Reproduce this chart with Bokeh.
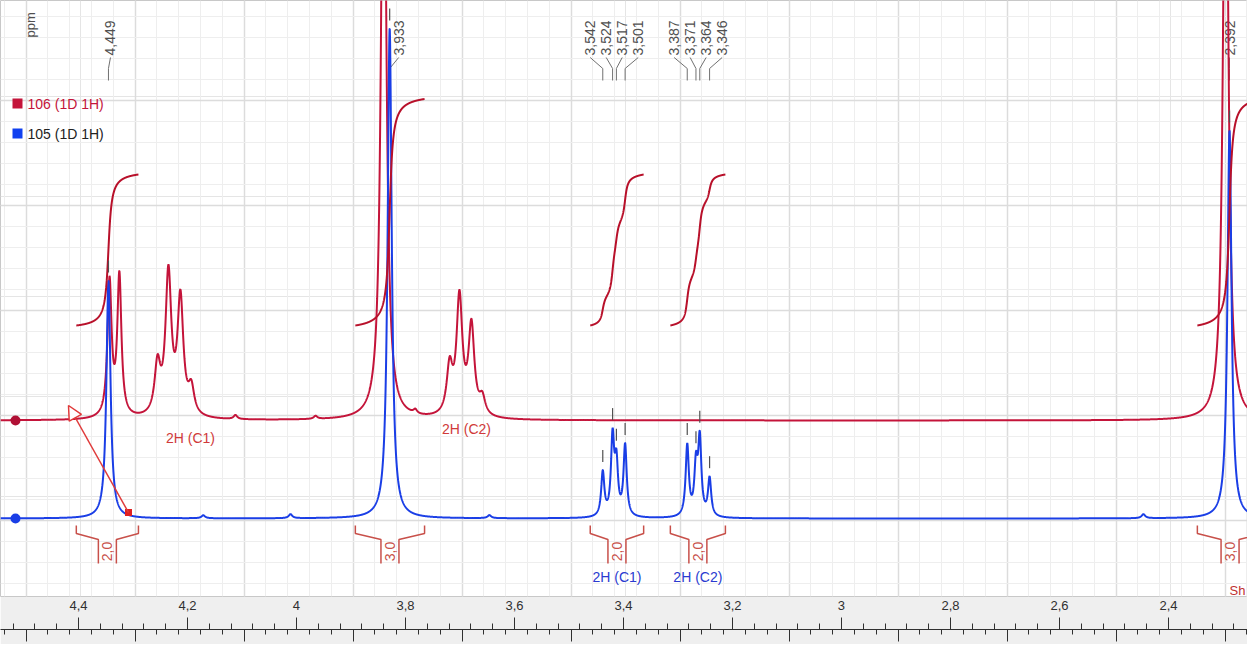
import numpy as np
from bokeh.plotting import figure
from bokeh.models import (Range1d, LinearAxis, FixedTicker, Grid, CustomJSTickFormatter,
                          Arrow, NormalHead)
from bokeh.core.properties import value
from bokeh.embed import file_html
from bokeh.resources import INLINE

FONT = "Liberation Sans"

# ------------------------------------------------------------------ data
# x coordinate = ppm scale of spectrum 105 (lower ruler); upper ruler = x - scale_offset
scale_offset = 0.104
x_start, x_end = 4.6471, 2.3590

upper_ticks = [4.4, 4.2, 4.0, 3.8, 3.6, 3.4, 3.2, 3.0, 2.8, 2.6, 2.4]
upper_tick_labels = ["4,4", "4,2", "4", "3,8", "3,6", "3,4", "3,2", "3", "2,8", "2,6", "2,4"]
lower_ticks = [4.6, 4.4, 4.2, 4.0, 3.8, 3.6, 3.4, 3.2, 3.0, 2.8, 2.6, 2.4]

# spectrum 105 (1D 1H) - blue
blue_ppm = [4.449, 3.933, 3.542, 3.524, 3.517, 3.501, 3.387, 3.371, 3.364, 3.346, 2.392,
            4.275, 4.115, 3.750, 2.550]
blue_height = [238, 490, 44, 77, 50, 71, 71, 48, 75, 38, 388, 3, 4, 3, 4]
blue_hwhm = [0.0045, 0.0045, 0.0035, 0.0035, 0.0035, 0.0035, 0.0035, 0.0035, 0.0035, 0.0035,
             0.0045, 0.004, 0.004, 0.004, 0.004]
blue_offset = 78

# spectrum 106 (1D 1H) - red
red_ppm = [4.447, 4.429, 4.359, 4.339, 4.317, 4.297, 4.216, 4.069, 3.944, 3.886,
           3.823, 3.805, 3.783, 3.763, 2.399]
red_height = [135, 140, 49, 141, 116, 26, 4, 3, 700, 4, 47, 117, 89, 17, 700]
red_hwhm = [0.0045, 0.0045, 0.0064, 0.0064, 0.0064, 0.0064, 0.004, 0.004, 0.0055, 0.004,
            0.0064, 0.0064, 0.0064, 0.0064, 0.0055]
red_offset = 176

# integrals (of spectrum 105)
integral_from = [4.508, 3.996, 3.565, 3.418, 2.451]
integral_to = [4.394, 3.869, 3.467, 3.317, 2.331]
integral_value = [2.0, 3.0, 2.0, 2.0, 3.0]
integral_text = ["2,0", "3,0", "2,0", "2,0", "3,0"]
integral_unit = 75.5      # curve height per proton
integral_base = 271

# peak picking labels
peak_label_ppm = [4.449, 3.933, 3.542, 3.524, 3.517, 3.501, 3.387, 3.371, 3.364, 3.346, 2.392]
peak_label_text = ["4,449", "3,933", "3,542", "3,524", "3,517", "3,501",
                   "3,387", "3,371", "3,364", "3,346", "2,392"]
peak_label_group = [0, 1, 2, 2, 2, 2, 3, 3, 3, 3, 4]

assign_text = ["2H (C1)", "2H (C2)"]
legend_labels = ["106 (1D 1H)", "105 (1D 1H)"]

RED = "#c4143a"
BLUE = "#1a3ee6"
BRACKET = "#c8504a"
GREY_TXT = "#505050"

# ------------------------------------------------------------------ helpers
PX = 1 / 545.0  # ppm per screen pixel


def px_x(px):   # screen-pixel x -> ppm (layout helper for annotations)
    return x_start - px * PX


def px_y(py):   # screen-pixel y -> data y
    return 596 - py


def lorentz_sum(x, ppm, h, w):
    x = np.asarray(x)[:, None]
    return np.sum(np.array(h) / (1 + ((x - np.array(ppm)) / np.array(w)) ** 2), axis=1)


xs = np.linspace(x_start, x_end, 9000)
blue_y = blue_offset + lorentz_sum(xs, blue_ppm, blue_height, blue_hwhm)
red_y = red_offset + lorentz_sum(xs, red_ppm, red_height, red_hwhm)

# ------------------------------------------------------------------ figure
p = figure(width=1247, height=644, x_range=Range1d(x_start, x_end), y_range=Range1d(0, 596),
           x_axis_location=None, y_axis_location=None, toolbar_location=None,
           output_backend="svg", min_border_left=0, min_border_right=0, min_border_top=0,
           min_border_bottom=48, background_fill_color="white", border_fill_color="#efefef",
           outline_line_color="#c8c8c8")

# grids
lower_minor = [round(v, 2) for v in np.arange(2.32, 4.68, 0.04)]
p.add_layout(Grid(dimension=0, ticker=FixedTicker(ticks=lower_ticks, minor_ticks=lower_minor),
                  grid_line_color="#dcdcdc", grid_line_width=1.5,
                  minor_grid_line_color="#eeeeee", minor_grid_line_width=1))
y_major = [76, 181, 286, 391, 496]
y_minor = list(range(13, 596, 21))
p.add_layout(Grid(dimension=1, ticker=FixedTicker(ticks=y_major, minor_ticks=y_minor),
                  grid_line_color="#dcdcdc", grid_line_width=1.5,
                  minor_grid_line_color="#eeeeee", minor_grid_line_width=1))

# axes
upper_pos = [t + scale_offset for t in upper_ticks]
upper_minor = [round(v, 2) + scale_offset for v in np.arange(2.2, 4.6, 0.04)]
fmt = CustomJSTickFormatter(args=dict(pos=upper_pos, labels=upper_tick_labels), code="""
let best = 0, bd = Infinity;
for (let i = 0; i < pos.length; i++) { const d = Math.abs(pos[i] - tick); if (d < bd) { bd = d; best = i; } }
return labels[best];
""")
blank = CustomJSTickFormatter(code="return '';")

axA = LinearAxis(ticker=FixedTicker(ticks=upper_pos, minor_ticks=[]), formatter=fmt,
                 axis_line_color=None, major_tick_line_color=None, minor_tick_line_color=None,
                 major_tick_in=0, major_tick_out=0, minor_tick_in=0, minor_tick_out=0,
                 major_label_standoff=4, major_label_text_font_size="13px",
                 major_label_text_font=FONT, major_label_text_color="#303030",
                 axis_label=" ", axis_label_standoff=2, axis_label_text_font_size="11px")
axB = LinearAxis(ticker=FixedTicker(ticks=upper_pos, minor_ticks=upper_minor), formatter=blank,
                 axis_line_color=None, major_tick_line_color="#303030",
                 minor_tick_line_color="#303030",
                 major_tick_in=12, major_tick_out=0, minor_tick_in=6, minor_tick_out=0,
                 major_label_standoff=0, major_label_text_font_size="0px")
axC = LinearAxis(ticker=FixedTicker(ticks=lower_ticks, minor_ticks=lower_minor), formatter=blank,
                 axis_line_color="#303030", major_tick_line_color="#303030",
                 minor_tick_line_color="#303030",
                 major_tick_in=0, major_tick_out=12, minor_tick_in=0, minor_tick_out=5,
                 major_label_standoff=0, major_label_text_font_size="0px")
p.add_layout(axA, "below")
p.add_layout(axB, "below")
p.add_layout(axC, "below")

# peak labels (top)
sp = 16 * PX
lab_x = []
for g in sorted(set(peak_label_group)):
    idx = [i for i, gg in enumerate(peak_label_group) if gg == g]
    mean = np.mean([peak_label_ppm[i] for i in idx])
    n = len(idx)
    for k, i in enumerate(idx):
        lab_x.append(mean - (k - (n - 1) / 2) * sp)
lab_x = [lx - (9 * PX if g == 1 else (2 * PX if g == 0 else 0))
         for lx, g in zip(lab_x, peak_label_group)]
p.text(x=lab_x, y=[px_y(55)] * len(lab_x), text=peak_label_text, angle=np.pi / 2,
       text_align="left", text_baseline="middle", text_font=value(FONT),
       text_font_size="14px", text_color=GREY_TXT)
p.multi_line(xs=[[lx, pk, pk] for lx, pk in zip(lab_x, peak_label_ppm)],
             ys=[[px_y(57), px_y(68), px_y(80)]] * len(lab_x), line_color="#707070",
             line_width=1)

# "ppm" label
p.text(x=[px_x(30)], y=[px_y(37)], text=["ppm"], angle=np.pi / 2, text_align="left",
       text_baseline="middle", text_font=value(FONT), text_font_size="13px",
       text_color=GREY_TXT)

# integral brackets
d = 9 * PX
bx, by = [], []
for a, b in zip(integral_from, integral_to):
    c = (a + b) / 2
    bx += [[a, a, c + d, c + d], [c - d, c - d, b, b]]
    by += [[71, 63, 57, 33], [33, 57, 63, 71]]
p.multi_line(xs=bx, ys=by, line_color=BRACKET, line_width=1.5)
p.text(x=[(a + b) / 2 for a, b in zip(integral_from, integral_to)], y=[45] * 5,
       text=integral_text, angle=np.pi / 2, text_align="center", text_baseline="middle",
       text_font=value(FONT), text_font_size="14px", text_color=BRACKET)

# spectra
p.line(xs, red_y, line_color=RED, line_width=2)
p.line(xs, blue_y, line_color=BLUE, line_width=2)

# integral curves
for a, b, v in zip(integral_from, integral_to, integral_value):
    xi = np.linspace(a, b, 800)
    yi = lorentz_sum(xi, blue_ppm, blue_height, blue_hwhm)
    cum = np.cumsum(yi)
    cum = integral_base + cum / cum[-1] * v * integral_unit
    p.line(xi, cum, line_color="#b8102a", line_width=2)

# peak pick markers over the blue peaks
pk_top = blue_offset + lorentz_sum(peak_label_ppm, blue_ppm, blue_height, blue_hwhm)
p.segment(x0=peak_label_ppm, y0=pk_top + 8, x1=peak_label_ppm, y1=pk_top + 20,
          line_color="#505050", line_width=1.2)

# assignment labels
p.text(x=[(integral_from[2] + integral_to[2]) / 2, (integral_from[3] + integral_to[3]) / 2],
       y=[px_y(576)] * 2, text=assign_text, text_align="center", text_baseline="middle",
       text_font=value(FONT), text_font_size="14px", text_color="#2a3ad0")
p.text(x=[px_x(190), px_x(466)], y=[px_y(437), px_y(428)], text=assign_text,
       text_align="center", text_baseline="middle", text_font=value(FONT),
       text_font_size="14px", text_color="#d03a3a")

# baseline markers
p.scatter(x=[px_x(15)] * 2, y=[red_offset, blue_offset], marker="circle", size=10,
          fill_color=["#b01035", BLUE], line_color=None)

# arrow annotation
p.add_layout(Arrow(x_start=px_x(128), y_start=px_y(512), x_end=px_x(68), y_end=px_y(405),
                   line_color="#e03a3a", line_width=1.5,
                   end=NormalHead(size=14, fill_color="white", line_color="#e03a3a",
                                  line_width=1.5)))
p.scatter(x=[px_x(128)], y=[px_y(512)], marker="square", size=7, fill_color="#e02020",
          line_color=None)

p.text(x=[px_x(1245)], y=[px_y(590)], text=["Sh"], text_align="right", text_baseline="middle",
       text_font=value(FONT), text_font_size="13px", text_color="#c03030")

# legend (spectrum list)
p.scatter(x=[px_x(17)] * 2, y=[px_y(103), px_y(133)], marker="square", size=10,
          fill_color=[RED, "#1040f0"], line_color=None)
p.text(x=[px_x(27)] * 2, y=[px_y(103), px_y(133)], text=legend_labels, text_align="left",
       text_baseline="middle", text_font=value(FONT), text_font_size="14px",
       text_color=[RED, "#222222"])

open("out.html", "w").write(file_html(p, INLINE))
